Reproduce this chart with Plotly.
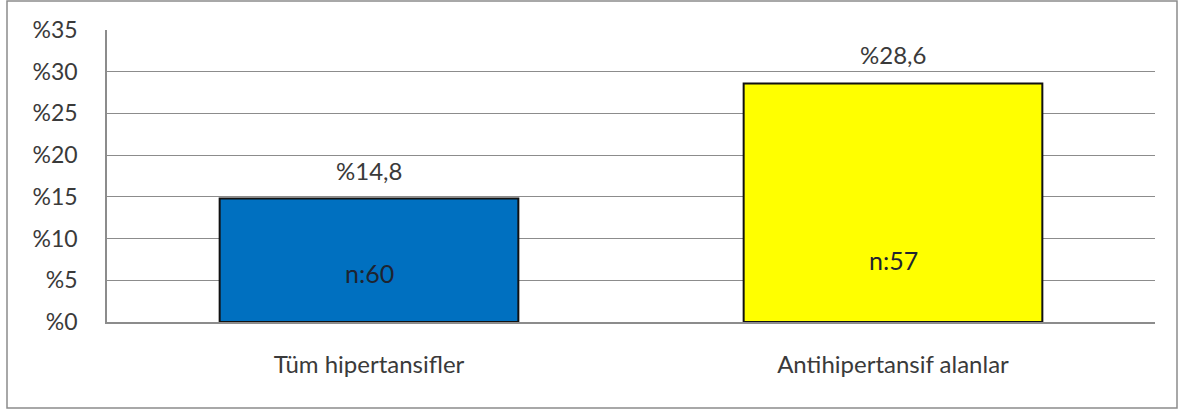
import plotly.graph_objects as go

# Chart data
categories = ["Tüm hipertansifler", "Antihipertansif alanlar"]
percentages = [14.8, 28.6]
sample_sizes = [60, 57]
bar_colors = ["#0070C0", "#FFFF00"]
y_ticks = [0, 5, 10, 15, 20, 25, 30, 35]

W, H = 1181, 414
ML, MR, MT, MB = 107, 26, 30, 92

FONT = "Lato"
TEXT = "#3a3a3a"

fig = go.Figure(
    go.Bar(
        x=categories,
        y=percentages,
        marker=dict(color=bar_colors, line=dict(color="#111111", width=2)),
        hoverinfo="skip",
    )
)

# value labels above bars
for cat, val in zip(categories, percentages):
    fig.add_annotation(
        x=cat, y=val, xref="x", yref="y",
        text="%" + f"{val:.1f}".replace(".", ","),
        showarrow=False, yanchor="bottom", yshift=12,
        font=dict(family=FONT, size=24, color=TEXT),
    )

# sample size labels inside bars
n_label_y = [5.9, 7.4]
for cat, n, yy in zip(categories, sample_sizes, n_label_y):
    fig.add_annotation(
        x=cat, y=yy, xref="x", yref="y",
        text=f"n:{n}", showarrow=False,
        font=dict(family=FONT, size=25, color="#1e2430"),
    )

# outer chart frame
pw = W - ML - MR
ph = H - MT - MB
fig.add_shape(
    type="rect", xref="paper", yref="paper", layer="above",
    x0=(7 - ML) / pw, x1=(1177 - ML) / pw,
    y0=-(408 - MT - ph) / ph, y1=1 + (MT - 1) / ph,
    line=dict(color="#8c8c8c", width=1.5),
)

fig.update_layout(
    width=W, height=H,
    margin=dict(l=ML, r=MR, t=MT, b=MB),
    paper_bgcolor="white", plot_bgcolor="white",
    bargap=0.43,
    showlegend=False,
    font=dict(family=FONT, color=TEXT),
    xaxis=dict(
        showgrid=False, showline=True, linecolor="#8c8c8c", linewidth=1.5,
        ticks="", ticklabelstandoff=20,
        tickfont=dict(family=FONT, size=24, color=TEXT),
        mirror=False,
    ),
    yaxis=dict(
        range=[0, 35], tickvals=y_ticks,
        ticktext=[f"%{t}" for t in y_ticks],
        showgrid=True, gridcolor="#8c8c8c", gridwidth=1,
        showline=True, linecolor="#8c8c8c", linewidth=1.5,
        zeroline=False, ticks="", ticklabelstandoff=23,
        tickfont=dict(family=FONT, size=23, color=TEXT),
    ),
)

fig.write_html("out.html")
